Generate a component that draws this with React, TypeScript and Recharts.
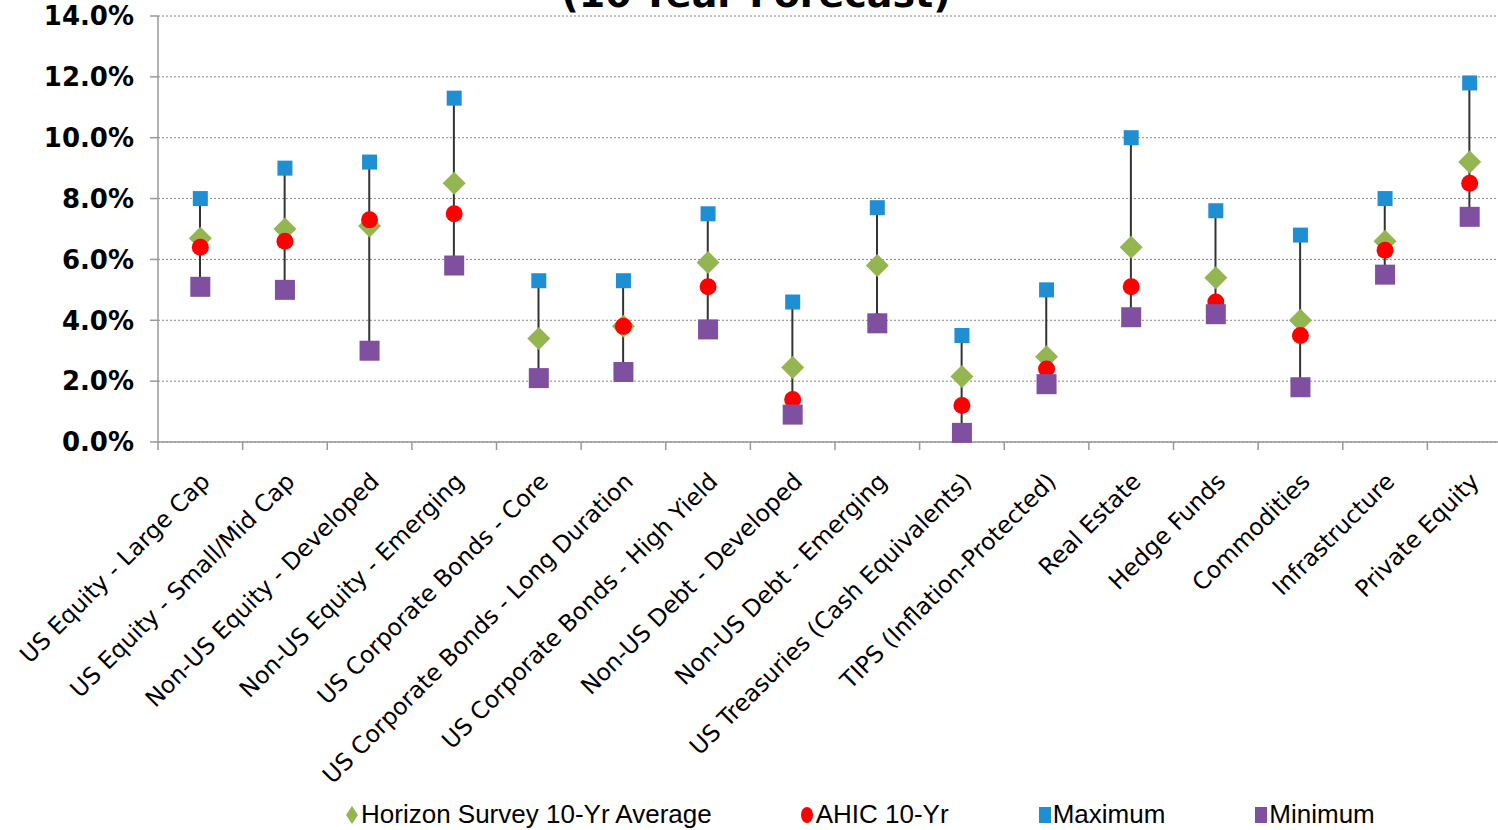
import React from 'react';
import { ComposedChart, Bar, Scatter, XAxis, YAxis, CartesianGrid } from 'recharts';

const categories = [
  'US Equity - Large Cap',
  'US Equity - Small/Mid Cap',
  'Non-US Equity - Developed',
  'Non-US Equity - Emerging',
  'US Corporate Bonds - Core',
  'US Corporate Bonds - Long Duration',
  'US Corporate Bonds - High Yield',
  'Non-US Debt - Developed',
  'Non-US Debt - Emerging',
  'US Treasuries (Cash Equivalents)',
  'TIPS (Inflation-Protected)',
  'Real Estate',
  'Hedge Funds',
  'Commodities',
  'Infrastructure',
  'Private Equity',
];

const surveyAvg = [6.7, 7.0, 7.1, 8.5, 3.4, 3.8, 5.9, 2.45, 5.8, 2.15, 2.8, 6.4, 5.4, 4.0, 6.6, 9.2];
const ahic = [6.4, 6.6, 7.3, 7.5, null, 3.8, 5.1, 1.4, 3.95, 1.2, 2.4, 5.1, 4.6, 3.5, 6.3, 8.5];
const maximum = [8.0, 9.0, 9.2, 11.3, 5.3, 5.3, 7.5, 4.6, 7.7, 3.5, 5.0, 10.0, 7.6, 6.8, 8.0, 11.8];
const minimum = [5.1, 5.0, 3.0, 5.8, 2.1, 2.3, 3.7, 0.9, 3.9, 0.3, 1.9, 4.1, 4.2, 1.8, 5.5, 7.4];

const yTicks = [0, 2, 4, 6, 8, 10, 12, 14];

const GREEN = '#93b651';
const RED = '#ff0000';
const BLUE = '#1f8fd3';
const PURPLE = '#7f50a0';

const data = categories.map((name, i) => ({
  name,
  avg: surveyAvg[i],
  ahic: ahic[i],
  max: maximum[i],
  min: minimum[i],
  range: [minimum[i], maximum[i]],
}));

const W = 1498;
const H = 830;
const CHART_W = 1512;
const LEFT = 158;
const BAND = (CHART_W - LEFT) / categories.length;

const Diamond = (p: any) =>
  p.cx == null || p.payload.avg == null ? null : (
    <polygon
      points={`${p.cx},${p.cy - 11.5} ${p.cx + 11.5},${p.cy} ${p.cx},${p.cy + 11.5} ${p.cx - 11.5},${p.cy}`}
      fill={GREEN}
    />
  );

const Dot = (p: any) =>
  p.cx == null || p.payload.ahic == null ? null : <circle cx={p.cx} cy={p.cy} r={8.5} fill={RED} />;

const Square = (size: number, color: string, key: string) => (p: any) =>
  p.cx == null || p.payload[key] == null ? null : (
    <rect x={p.cx - size / 2} y={p.cy - size / 2} width={size} height={size} fill={color} />
  );

const CatTick = (p: any) => {
  const { x, y, payload, index } = p;
  const ax = x + 11;
  const ay = y + 33;
  return (
    <g>
      <line x1={x - BAND / 2} y1={y - 8} x2={x - BAND / 2} y2={y} stroke="#999" strokeWidth={1.5} />
      {index === categories.length - 1 && (
        <line x1={x + BAND / 2} y1={y - 8} x2={x + BAND / 2} y2={y} stroke="#999" strokeWidth={1.5} />
      )}
      <text
        x={ax}
        y={ay}
        textAnchor="end"
        transform={`rotate(-45, ${ax}, ${ay})`}
        fontFamily="DejaVu Sans, Verdana, sans-serif"
        fontSize={23.5}
        fill="#000"
      >
        {payload.value}
      </text>
    </g>
  );
};

const legendItems = [
  { label: 'Horizon Survey 10-Yr Average', color: GREEN, kind: 'diamond' },
  { label: 'AHIC 10-Yr', color: RED, kind: 'circle' },
  { label: 'Maximum', color: BLUE, kind: 'square' },
  { label: 'Minimum', color: PURPLE, kind: 'square' },
];

const LegendMark = ({ kind, color }: { kind: string; color: string }) => (
  <svg width={14} height={20} style={{ marginRight: 2 }}>
    {kind === 'diamond' && <polygon points="7,1 13,10 7,19 1,10" fill={color} />}
    {kind === 'circle' && <ellipse cx={7} cy={10} rx={6} ry={8} fill={color} />}
    {kind === 'square' && <rect x={2} y={2} width={12} height={16} fill={color} />}
  </svg>
);

export default function App() {
  return (
    <div
      style={{
        position: 'fixed',
        left: 0,
        top: 0,
        width: W,
        height: H,
        overflow: 'hidden',
        background: '#fff',
      }}
    >
      <ComposedChart width={CHART_W} height={H} data={data} margin={{ top: 16, right: 0, left: 0, bottom: 0 }}>
        <CartesianGrid vertical={false} stroke="#888" strokeDasharray="2 2" />
        <XAxis
          dataKey="name"
          interval={0}
          height={388}
          tickLine={false}
          axisLine={{ stroke: '#999', strokeWidth: 1.5 }}
          tick={<CatTick />}
        />
        <YAxis
          width={LEFT}
          domain={[0, 14]}
          ticks={yTicks}
          tickFormatter={(v: number) => `${v.toFixed(1)}%`}
          axisLine={{ stroke: '#999', strokeWidth: 1.5 }}
          tickLine={{ stroke: '#999', strokeWidth: 1.5 }}
          tickSize={8}
          tickMargin={16}
          tick={{ fill: '#000', fontSize: 26, fontWeight: 'bold', fontFamily: 'DejaVu Sans, Verdana, sans-serif' }}
        />
        <Bar dataKey="range" barSize={2} fill="#333" isAnimationActive={false} />
        <Scatter dataKey="avg" shape={Diamond} isAnimationActive={false} />
        <Scatter dataKey="ahic" shape={Dot} isAnimationActive={false} />
        <Scatter dataKey="max" shape={Square(15, BLUE, 'max')} isAnimationActive={false} />
        <Scatter dataKey="min" shape={Square(20, PURPLE, 'min')} isAnimationActive={false} />
      </ComposedChart>
      <div
        style={{
          position: 'absolute',
          top: -25,
          left: 0,
          width: 1512,
          textAlign: 'center',
          fontFamily: 'DejaVu Sans, Verdana, sans-serif',
          fontWeight: 'bold',
          fontSize: 38,
          lineHeight: '38px',
          color: '#000',
        }}
      >
        (10-Year Forecast)
      </div>
      <div
        style={{
          position: 'absolute',
          left: 345,
          top: 799,
          display: 'flex',
          alignItems: 'center',
          fontFamily: '"Liberation Sans Narrow", "Arial Narrow", sans-serif',
          fontSize: 26,
          color: '#000',
        }}
      >
        {legendItems.map((it, i) => (
          <div key={it.label} style={{ display: 'flex', alignItems: 'center', marginRight: i < 3 ? 88 : 0 }}>
            <LegendMark kind={it.kind} color={it.color} />
            <span>{it.label}</span>
          </div>
        ))}
      </div>
    </div>
  );
}
